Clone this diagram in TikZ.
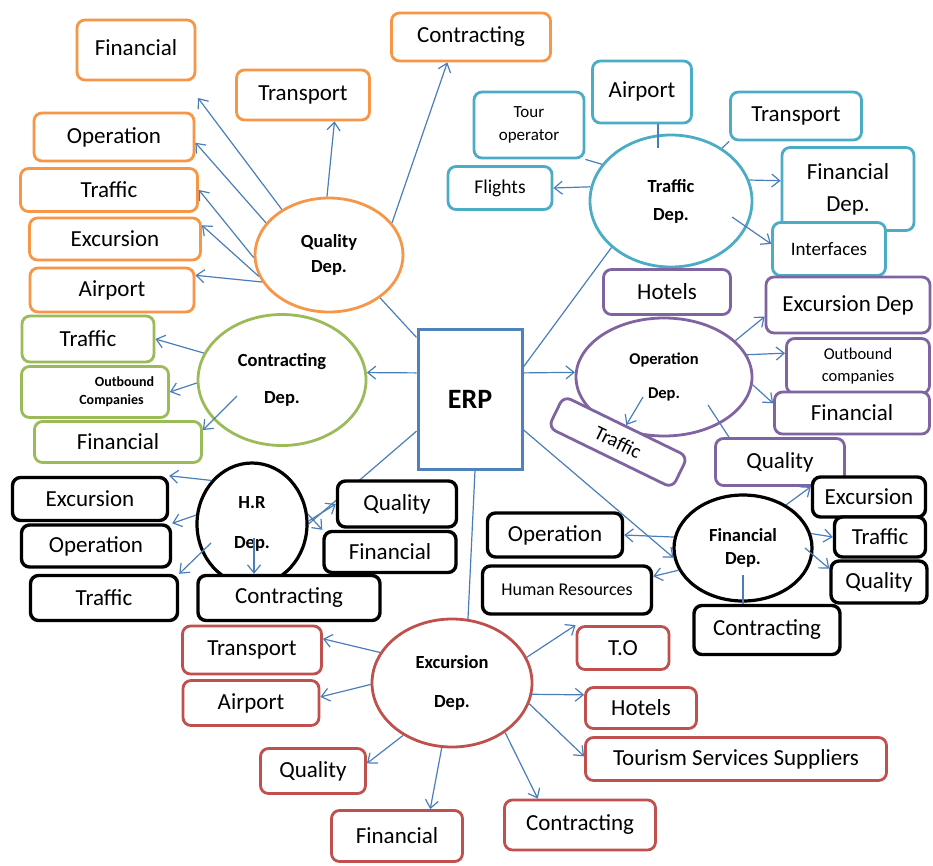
\documentclass[tikz,border=0pt]{standalone}
\usepackage{fontspec}
\setmainfont{Carlito}
\usetikzlibrary{shapes,arrows.meta}
\definecolor{qorange}{RGB}{247,150,70}
\definecolor{tteal}{RGB}{75,172,198}
\definecolor{cgreen}{RGB}{155,187,89}
\definecolor{opurple}{RGB}{128,100,162}
\definecolor{ered}{RGB}{192,80,77}
\definecolor{erpblue}{RGB}{79,129,189}
\definecolor{arrblue}{RGB}{74,126,187}
\pgfdeclarelayer{bg}
\pgfsetlayers{bg,main}

\begin{document}
\begin{tikzpicture}[x=1pt, y=-1pt,
  box/.style={draw=#1, fill=white, line width=2.8pt, rounded corners=8pt, inner sep=0pt, font=\boxfont},
  bbox/.style={box=black, line width=3.4pt},
  dep/.style={draw=#1, ellipse, line width=2.8pt, inner sep=0pt, align=center, font=\depfont},
  sz/.style 2 args={minimum width=#1pt, minimum height=#2pt},
  arr/.style={draw=arrblue, line width=1.2pt, -{Straight Barb[length=8pt,width=13pt]}},
  lnk/.style={draw=arrblue, line width=1.2pt}]

  \newcommand\boxfont{\fontsize{23}{27}\selectfont}
  \newcommand\depfont{\fontsize{18.5}{21}\selectfont\bfseries}

  \useasboundingbox (0,0) rectangle (933,865);
  \begin{pgfonlayer}{bg}
    \fill[white] (0,0) rectangle (933,865);
  \end{pgfonlayer}

  % quality
  \node[box=qorange, sz={118}{60}] (qfin) at (136,50) {\raisebox{4pt}{Financial}};
  \node[box=qorange, sz={133}{50}] (qtra) at (303,95) {Transport};
  \node[box=qorange, sz={159}{48}] (qcon) at (471,37) {Contracting};
  \node[box=qorange, sz={160}{48}] (qop) at (114,137) {Operation};
  \node[box=qorange, sz={177}{43}] (qtr) at (109,190) {Traffic};
  \node[box=qorange, sz={171}{42}] (qexc) at (115,239) {Excursion};
  \node[box=qorange, sz={164}{44}] (qair) at (112,290) {Airport};
  \node[dep=qorange, sz={148}{114}] (qual) at (329,255) {Quality\\[4pt]Dep.};

  % traffic
  \node[box=tteal, sz={99}{62}] (tair) at (642,92) {\raisebox{5pt}{Airport}};
  \node[box=tteal, sz={110}{66}, align=center, font=\fontsize{17}{20}\selectfont] (ttour) at (529,125) {Tour\\[3pt]operator};
  \node[box=tteal, sz={131}{48}] (ttra) at (796,116) {Transport};
  \node[box=tteal, sz={104}{43}, font=\fontsize{19.5}{23}\selectfont] (tfl) at (500,188) {Flights};
  \node[box=tteal, sz={132}{83}, align=center] (tfin) at (848,189) {Financial\\[5pt]Dep.};
  \node[box=tteal, sz={113}{53}, font=\fontsize{19}{23}\selectfont] (tint) at (829,249) {Interfaces};
  \node[dep=tteal, sz={162}{132}] (traf) at (671,201) {Traffic\\[7pt]Dep.};

  % operation
  \node[box=opurple, sz={127}{45}] (phot) at (667,292) {Hotels};
  \node[box=opurple, sz={164}{56}] (pexc) at (848,305) {Excursion Dep};
  \node[box=opurple, sz={143}{55}, align=center, font=\fontsize{16.5}{19}\selectfont] (pout) at (858,366) {Outbound\\[3pt]companies};
  \node[box=opurple, sz={155}{42}] (pfin) at (852,413) {Financial};
  \node[dep=opurple, sz={176}{118}, font=\fontsize{16.5}{19}\selectfont\bfseries] (op) at (664,377) {Operation\\[15pt]Dep.};
  \node[box=opurple, sz={138}{35}, rotate=-26, font=\fontsize{20}{24}\selectfont] (ptr) at (618,442) {Traffic};
  \node[box=opurple, sz={129}{47}] (pq) at (780,462) {Quality};

  % financial
  \node[bbox, sz={135}{44}] (bop) at (555,535) {Operation};
  \node[bbox, sz={169}{48}, font=\fontsize{18}{22}\selectfont] (bhr) at (567,590) {Human Resources};
  \node[bbox, sz={113}{40}] (bexc) at (869,497) {Excursion};
  \node[bbox, sz={91}{40}] (btr) at (880,537) {Traffic};
  \node[bbox, sz={96}{42}] (bq) at (879,582) {Quality};
  \node[bbox, sz={146}{49}] (bcon) at (767,630) {Contracting};
  \node[dep=black, line width=3.2pt, sz={138}{106}] (fd) at (743,548) {Financial\\[2pt]Dep.};

  % h.r
  \node[bbox, sz={155}{43}] (hexc) at (90,499) {Excursion};
  \node[bbox, sz={149}{42}] (hop) at (96,546) {Operation};
  \node[bbox, sz={147}{45}] (htr) at (104,598) {Traffic};
  \node[dep=black, line width=3.2pt, sz={110}{122}] (hr) at (252,524) {H.R\\[19pt]Dep.};
  \node[bbox, sz={182}{45}] (hcon) at (289,598) {Contracting};
  \node[bbox, sz={119}{46}] (hq) at (397,504) {Quality};
  \node[bbox, sz={132}{41}] (hfin) at (390,552) {Financial};

  % contracting
  \node[box=cgreen, sz={132}{46}] (gtr) at (88,339) {Traffic};
  \node[box=cgreen, sz={147}{51}, align=center, font=\fontsize{14}{17}\selectfont\bfseries] (gout) at (95,392) {\hspace*{59pt}Outbound\\[1pt]\hspace*{33pt}Companies};
  \node[box=cgreen, sz={167}{41}] (gfin) at (118,442) {Financial};
  \node[dep=cgreen, sz={168}{131}] (con) at (282,380) {Contracting\\[16pt]Dep.};

  % excursion
  \node[box=ered, sz={139}{48}] (rtra) at (252,650) {Transport};
  \node[box=ered, sz={136}{45}] (rair) at (251,703) {Airport};
  \node[box=ered, sz={105}{45}] (rq) at (313,771) {Quality};
  \node[box=ered, sz={131}{51}] (rfin) at (397,836) {Financial};
  \node[box=ered, sz={151}{50}] (rcon) at (580,825) {Contracting};
  \node[box=ered, sz={92}{43}] (rto) at (623,648) {T.O};
  \node[box=ered, sz={111}{41}] (rhot) at (641,708) {Hotels};
  \node[box=ered, sz={301}{43}] (rtss) at (736,759) {Tourism Services Suppliers};
  \node[dep=ered, sz={160}{128}] (exc) at (452,683) {Excursion\\[18pt]Dep.};

  \node[draw=erpblue, fill=white, line width=3pt, sz={104}{140}, font=\fontsize{28}{32}\selectfont\bfseries] (erp) at (470,399) {ERP};

  % loose ends inside the ellipses
  \coordinate (qfinpt) at (198,98);
  \coordinate (cfinst) at (237,396);
  \coordinate (hrtrst) at (211,543);
  \coordinate (hrconst) at (254,538);
  \coordinate (tairin) at (658,148);
  \coordinate (tintst) at (732,217);
  \coordinate (optrst) at (643,397);
  \coordinate (opqst) at (708,405);
  \coordinate (fdqst) at (805,548);
  \coordinate (fdconst) at (743,575);

  \begin{pgfonlayer}{bg}
    \draw[lnk] (erp.211) -- (hr.east);
  \end{pgfonlayer}

  \draw[lnk] (erp.131) -- (qual.-40);
  \draw[lnk] (erp.31) -- (traf.218);
  \draw[arr] (erp.154) -- (con.5);
  \draw[arr] (erp.26) -- (op.177);
  \draw[arr] (erp.-30) -- (fd.188);
  \draw[lnk] (erp.-86) -- (exc.76);

  \draw[arr] (qual.136) -- (qfinpt);
  \draw[arr] (qual.153) -- (qop.-4);
  \draw[arr] (qual.182) -- (qtr.east);
  \draw[arr] (qual.197) -- (qexc.9);
  \draw[arr] (qual.202) -- (qair.10);
  \draw[arr] (qual.92) -- (qtra.-40);
  \draw[arr] (qual.27) -- (qcon.-133);

  \draw[arr] (con.161) -- (gtr.east);
  \draw[arr] (con.182) -- (gout.east);
  \draw[arr] (cfinst) -- (gfin.8);

  \draw[arr] (hr.133) -- (hexc.north east);
  \draw[arr] (hr.171) -- (hop.north east);
  \draw[arr] (hrtrst) -- (htr.north east);
  \draw[arr] (hrconst) -- (hrconst |- hcon.north);
  \draw[arr] (hr.3) -- (hq.west);
  \draw[arr] (hr.10) -- (hfin.north west);

  \draw[lnk] (tairin) -- (tairin |- tair.south);
  \draw[lnk] (ttour.south east) -- (traf.152);
  \draw[arr] (traf.170) -- (tfl.east);
  \draw[lnk] (traf.46) -- (ttra.south west);
  \draw[arr] (traf.15) -- (tfin.173);
  \draw[arr] (tintst) -- (tint.175);

  \draw[arr] (op.27) -- (pexc.188);
  \draw[arr] (op.15) -- (pout.170);
  \draw[arr] (op.-5) -- (pfin.173);
  \draw[arr] (optrst) -- (ptr.north);
  \draw[lnk] (opqst) -- (pq.154);

  \draw[arr] (fd.171) -- (bop.east);
  \draw[arr] (fd.199) -- (bhr.9);
  \draw[arr] (fd.45) -- (bexc.170);
  \draw[arr] (fd.12) -- (btr.west);
  \draw[arr] (fdqst) -- (bq.165);
  \draw[lnk] (fdconst) -- (fdconst |- bcon.north);

  \draw[arr] (exc.157) -- (rtra.9);
  \draw[arr] (exc.181) -- (rair.5);
  \draw[arr] (exc.227) -- (rq.8);
  \draw[arr] (exc.261) -- (rfin.39);
  \draw[arr] (exc.-43) -- (rcon.148);
  \draw[arr] (exc.-15) -- (rtss.179);
  \draw[arr] (exc.-8) -- (rhot.167);
  \draw[arr] (exc.19) -- (rto.north west);

\end{tikzpicture}
\end{document}
